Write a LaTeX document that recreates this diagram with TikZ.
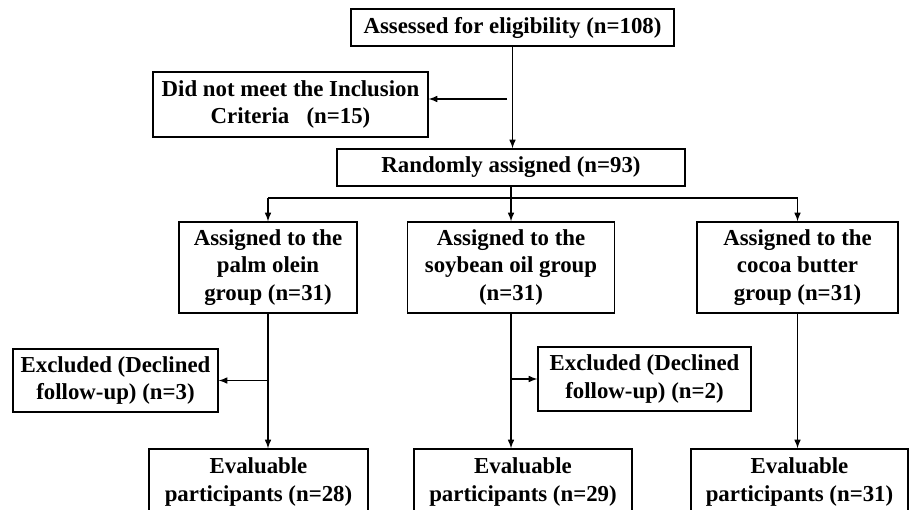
\documentclass[tikz,border=0pt]{standalone}
\usepackage{fontspec}
\setmainfont{Liberation Serif}
\usetikzlibrary{arrows,positioning}

\begin{document}
\begin{tikzpicture}[x=0.02cm,y=-0.02cm,>=latex]
    \tikzset{
        b/.style={draw, line width=0.8pt, inner sep=0pt, align=center, font=\fontsize{13}{15.5}\selectfont\bfseries},
        a/.style={->, line width=0.7pt},
    }
    \useasboundingbox (0,0) rectangle (909,510);

        \node[b, minimum width=6.46cm, minimum height=0.74cm] (assess) at (512.5,27.5) {Assessed for eligibility (n=108)};
        \node[b, minimum width=5.5cm, minimum height=1.3cm] (notmet) at (290.5,104.5) {Did not meet the Inclusion\\Criteria~~~(n=15)};
        \node[b, minimum width=6.96cm, minimum height=0.74cm] (random) at (511,167.5) {Randomly assigned (n=93)};

        \node[b, minimum width=3.56cm, minimum height=1.82cm] (palm) at (268,267.5) {Assigned to the\\palm olein\\group (n=31)};
        \node[b, minimum width=4.14cm, minimum height=1.82cm] (soy) at (511,267.5) {Assigned to the\\soybean oil group\\(n=31)};
        \node[b, minimum width=4.02cm, minimum height=1.82cm] (cocoa) at (797.5,267.5) {Assigned to the\\cocoa butter\\group (n=31)};

        \node[b, minimum width=4.1cm, minimum height=1.26cm] (expalm) at (115.5,380.5) {Excluded (Declined\\follow-up) (n=3)};
        \node[b, minimum width=4.26cm, minimum height=1.28cm] (exsoy) at (644.5,379) {Excluded (Declined\\follow-up) (n=2)};

        \node[b, minimum width=4.38cm, minimum height=1.32cm] (evpalm) at (258.5,482) {Evaluable\\participants (n=28)};
        \node[b, minimum width=4.36cm, minimum height=1.32cm] (evsoy) at (523,482) {Evaluable\\participants (n=29)};
        \node[b, minimum width=4.34cm, minimum height=1.32cm] (evcocoa) at (799.5,482) {Evaluable\\participants (n=31)};

        \draw [a] (assess.south) -- (assess.south |- random.north);
        \coordinate (side) at (507,99);
        \draw [a] (side) -- (side -| notmet.east);

        \coordinate (branch) at (511,198);
        \draw [line width=0.7pt] (random.south) -- (branch);
        \draw [line width=0.7pt] (branch -| palm) -- (branch -| cocoa);
        \foreach \g in {palm,soy,cocoa}
            \draw [a] (branch -| \g) -- (\g.north);

        \foreach \g/\e in {palm/evpalm,soy/evsoy,cocoa/evcocoa}
            \draw [a] (\g.south) -- (\g.south |- \e.north);

        \draw [a] (palm.south |- expalm.east) -- (expalm.east);
        \draw [a] (soy.south |- exsoy.west) -- (exsoy.west);
    \end{tikzpicture}
\end{document}
